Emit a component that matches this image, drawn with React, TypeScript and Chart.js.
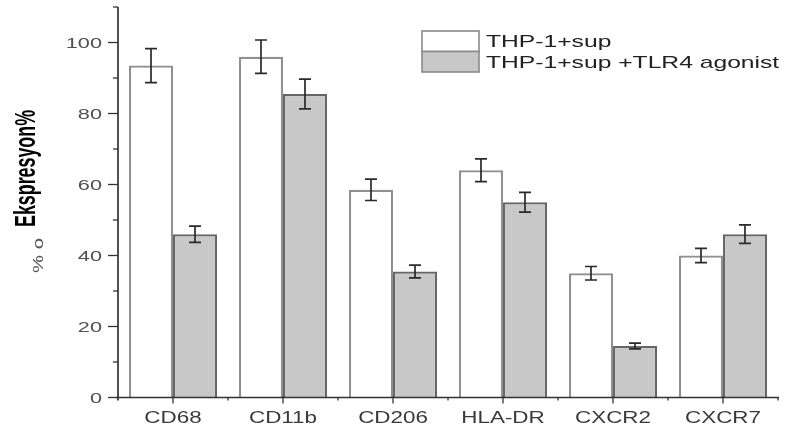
import React, { useEffect, useRef } from "react";
import { Chart, registerables } from "chart.js";

Chart.register(...registerables);

// ---- data ----
const categories = ["CD68", "CD11b", "CD206", "HLA-DR", "CXCR2", "CXCR7"];
const seriesLabels = ["THP-1+sup", "THP-1+sup +TLR4 agonist"];
const supValues = [93.5, 96, 58.5, 64, 35, 40];
const supErrors = [4.8, 4.7, 3.0, 3.2, 1.9, 2.0];
const tlr4Values = [46, 85.5, 35.5, 55, 14.5, 46];
const tlr4Errors = [2.3, 4.2, 1.8, 2.8, 0.8, 2.6];
const yMin = 0;
const yMax = 110;
const yStep = 10;
const yLabelStep = 20;
const yTitlePrefix = "% o";
const yTitleMain = "Ekspresyon%";

const SANS = '"Liberation Sans", Arial, sans-serif';
const NARROW = '"Liberation Sans Narrow", "Liberation Sans", Arial, sans-serif';

function drawStretched(
  ctx: CanvasRenderingContext2D,
  text: string,
  x: number,
  baseline: number,
  font: string,
  scaleX: number,
  align: "left" | "right" | "center",
  color: string
) {
  ctx.save();
  ctx.font = font;
  ctx.fillStyle = color;
  ctx.textBaseline = "alphabetic";
  ctx.textAlign = "left";
  const w = ctx.measureText(text).width * scaleX;
  const x0 = align === "right" ? x - w : align === "center" ? x - w / 2 : x;
  ctx.translate(x0, baseline);
  ctx.scale(scaleX, 1);
  ctx.fillText(text, 0, 0);
  ctx.restore();
}

function drawRotatedFit(
  ctx: CanvasRenderingContext2D,
  text: string,
  baseX: number,
  startY: number,
  length: number,
  font: string,
  color: string
) {
  ctx.save();
  ctx.font = font;
  ctx.fillStyle = color;
  ctx.textBaseline = "alphabetic";
  ctx.textAlign = "left";
  const w = ctx.measureText(text).width;
  ctx.translate(baseX, startY);
  ctx.rotate(-Math.PI / 2);
  ctx.scale(length / w, 1);
  ctx.fillText(text, 0, 0);
  ctx.restore();
}

const errorBarPlugin = {
  id: "errorBars",
  afterDatasetsDraw(chart: any) {
    const ctx: CanvasRenderingContext2D = chart.ctx;
    const y = chart.scales.y;
    ctx.save();
    ctx.strokeStyle = "#2a2a2a";
    ctx.lineWidth = 1.7;
    chart.data.datasets.forEach((ds: any, di: number) => {
      const meta = chart.getDatasetMeta(di);
      meta.data.forEach((el: any, i: number) => {
        const v = ds.data[i];
        const e = ds.errors[i];
        const x = el.x;
        const yt = y.getPixelForValue(v + e);
        const yb = y.getPixelForValue(v - e);
        const cap = 6;
        ctx.beginPath();
        ctx.moveTo(x, yt);
        ctx.lineTo(x, yb);
        ctx.moveTo(x - cap, yt);
        ctx.lineTo(x + cap, yt);
        ctx.moveTo(x - cap, yb);
        ctx.lineTo(x + cap, yb);
        ctx.stroke();
      });
    });
    ctx.restore();
  },
};

const axesPlugin = {
  id: "customAxes",
  afterDraw(chart: any) {
    const ctx: CanvasRenderingContext2D = chart.ctx;
    const area = chart.chartArea;
    const xs = chart.scales.x;
    const ys = chart.scales.y;
    ctx.save();
    ctx.strokeStyle = "#333";
    ctx.lineWidth = 1.7;
    // axis lines
    ctx.beginPath();
    ctx.moveTo(area.left, area.top);
    ctx.lineTo(area.left, area.bottom + 3);
    ctx.moveTo(area.left - 2, area.bottom);
    ctx.lineTo(area.right + 1, area.bottom);
    ctx.stroke();
    // y ticks
    ctx.lineWidth = 1.3;
    ys.ticks.forEach((t: any) => {
      const py = ys.getPixelForValue(t.value);
      const major = Math.round(t.value) % yLabelStep === 0;
      const len = major ? 10 : 5;
      ctx.beginPath();
      ctx.moveTo(area.left - len, py);
      ctx.lineTo(area.left, py);
      ctx.stroke();
      if (major) {
        drawStretched(ctx, String(t.value), area.left - 16, py + 5, `14px ${SANS}`, 1.55, "right", "#505050");
      }
    });
    // x ticks and labels
    const centers = categories.map((_, i) => xs.getPixelForValue(i));
    centers.forEach((cx, i) => {
      ctx.beginPath();
      ctx.moveTo(cx, area.bottom - 1);
      ctx.lineTo(cx, area.bottom + 6);
      ctx.stroke();
      drawStretched(ctx, categories[i], cx, 423.3, `16px ${SANS}`, 1.4, "center", "#3a3a3a");
    });
    const bounds: number[] = [];
    for (let i = 0; i < centers.length - 1; i++) bounds.push((centers[i] + centers[i + 1]) / 2);
    bounds.push(area.right);
    bounds.forEach((bx) => {
      ctx.beginPath();
      ctx.moveTo(bx, area.bottom);
      ctx.lineTo(bx, area.bottom + 3);
      ctx.stroke();
    });
    // y title
    drawRotatedFit(ctx, yTitleMain, 35, 227, 117, `bold 29px ${NARROW}`, "#000");
    drawRotatedFit(ctx, yTitlePrefix, 43, 273, 35, `15px ${SANS}`, "#555");
    // legend
    const lx = 422;
    const ly = 31;
    const bw = 57;
    const bh = 20.5;
    chart.data.datasets.forEach((ds: any, di: number) => {
      const by = ly + di * bh;
      ctx.fillStyle = ds.backgroundColor;
      ctx.fillRect(lx, by, bw, bh);
      ctx.strokeStyle = "#8a8a8a";
      ctx.lineWidth = 1.6;
      ctx.strokeRect(lx, by, bw, bh);
      drawStretched(ctx, ds.label, lx + bw + 7, by + bh / 2 + 6.1, `17px ${SANS}`, 1.45, "left", "#222");
    });
    ctx.restore();
  },
};

export default function App() {
  const canvasRef = useRef<HTMLCanvasElement | null>(null);

  useEffect(() => {
    if (!canvasRef.current) return;
    const chart = new Chart(canvasRef.current, {
      type: "bar",
      data: {
        labels: categories,
        datasets: [
          {
            label: seriesLabels[0],
            data: supValues,
            errors: supErrors,
            backgroundColor: "#ffffff",
            borderColor: "#909090",
            borderWidth: 2.2,
          } as any,
          {
            label: seriesLabels[1],
            data: tlr4Values,
            errors: tlr4Errors,
            backgroundColor: "#c8c8c8",
            borderColor: "#666666",
            borderWidth: 2.2,
          } as any,
        ],
      },
      options: {
        responsive: false,
        animation: false,
        devicePixelRatio: 1,
        layout: { padding: { top: 7, right: 9, left: 0, bottom: 0 } },
        datasets: { bar: { categoryPercentage: 0.8, barPercentage: 1.0 } },
        plugins: {
          legend: { display: false },
          tooltip: { enabled: false },
          title: { display: false },
        },
        scales: {
          x: {
            type: "category",
            offset: true,
            grid: { display: false },
            border: { display: false },
            ticks: { display: false },
            afterFit: (s: any) => {
              s.height = 32.5;
            },
          },
          y: {
            min: yMin,
            max: yMax,
            grid: { display: false },
            border: { display: false },
            ticks: { display: false, stepSize: yStep },
            afterFit: (s: any) => {
              s.width = 118;
            },
          },
        },
      } as any,
      plugins: [errorBarPlugin, axesPlugin],
    });
    return () => chart.destroy();
  }, []);

  return (
    <div style={{ position: "absolute", left: 0, top: 0, width: 787, height: 430, background: "#fff" }}>
      <canvas ref={canvasRef} width={787} height={430} style={{ display: "block" }} />
    </div>
  );
}
